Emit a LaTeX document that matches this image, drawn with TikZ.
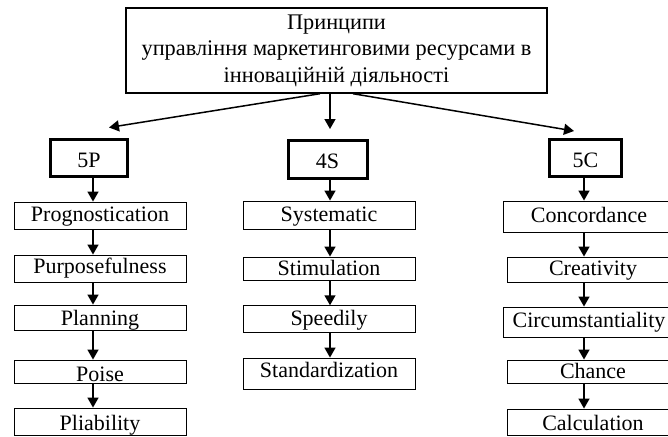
\documentclass[tikz,border=0pt]{standalone}
\usepackage{fontspec}
\setmainfont{Liberation Serif}
\usetikzlibrary{arrows.meta}
\begin{document}
\begin{tikzpicture}[x=1pt,y=-1pt,
  every node/.style={font=\fontsize{22}{26.5}\selectfont, inner sep=0pt},
  topbox/.style={draw, line width=1.4pt, align=center, font=\fontsize{22.3}{26.5}\selectfont},
  headbox/.style={draw, line width=3pt},
  itembox/.style={draw, line width=0.9pt, minimum width=172pt},
  arr/.style={line width=1.5pt, -{Triangle[length=10pt,width=11pt]}}
]
\useasboundingbox (0,0) rectangle (668,436);
\clip (0,0) rectangle (668,436);

\node[topbox, minimum width=421pt, minimum height=85pt] (top) at (336.5,50.5)
  {Принципи\\управління маркетинговими ресурсами в\\інноваційній діяльності};

\node[headbox, minimum width=77pt, minimum height=37pt, text height=28pt, text depth=9pt] (h1) at (89,157.5) {5P};
\node[headbox, minimum width=79pt, minimum height=38pt, text height=28pt, text depth=10pt] (h2) at (327.5,159) {4S};
\node[headbox, minimum width=72pt, minimum height=37pt, text height=28pt, text depth=9pt] (h3) at (585.5,157.5) {5C};

% column 1
\node[itembox, minimum height=27pt, text height=19pt, text depth=8pt] (p1) at (100,215.5) {Prognostication};
\node[itembox, minimum height=27pt, text height=18pt, text depth=9pt] (p2) at (100,268.5) {Purposefulness};
\node[itembox, minimum height=25pt, text height=20pt, text depth=5pt] (p3) at (100,317.5) {Planning};
\node[itembox, minimum height=23pt, text height=21pt, text depth=2pt] (p4) at (100,371.5) {Poise};
\node[itembox, minimum height=27.5pt, text height=22pt, text depth=5.5pt] (p5) at (100,421.75) {Pliability};

% column 2
\node[itembox, minimum height=28pt, text height=20pt, text depth=8pt] (s1) at (329,215) {Systematic};
\node[itembox, minimum height=23pt, text height=18pt, text depth=5pt] (s2) at (329,268.5) {Stimulation};
\node[itembox, minimum height=27pt, text height=20pt, text depth=7pt] (s3) at (329,319.2) {Speedily};
\node[itembox, minimum height=31pt, text height=19pt, text depth=12pt] (s4) at (329,373.5) {Standardization};

% column 3
\node[itembox, minimum height=31pt, text height=21pt, text depth=10pt] (c1) at (589,216.5) {Concordance};
\node[itembox, minimum height=25pt, text height=18pt, text depth=7pt] (c2) at (593,269.5) {Creativity};
\node[itembox, minimum height=30pt, text height=20pt, text depth=10pt] (c3) at (589,322) {Circumstantiality};
\node[itembox, minimum height=23pt, text height=18pt, text depth=5pt] (c4) at (593,371.5) {Chance};
\node[itembox, minimum height=26.5pt, text height=21pt, text depth=5.5pt] (c5) at (593,422.25) {Calculation};

% helper coordinates
\coordinate (xa) at (93,0);
\coordinate (xb) at (330,0);
\coordinate (xc) at (584,0);
\coordinate (sL) at (320,0);
\coordinate (sR) at (353,0);
\coordinate (tL) at (109,127.5);
\coordinate (tC) at (330,129);
\coordinate (tR) at (574,131);

% top arrows
\draw[arr] (top.south -| sL) -- (tL);
\draw[arr] (top.south -| xb) -- (tC);
\draw[arr] (top.south -| sR) -- (tR);

% column arrows
\draw[arr] (h1.south -| xa) -- (p1.north -| xa);
\draw[arr] (p1.south -| xa) -- (p2.north -| xa);
\draw[arr] (p2.south -| xa) -- (p3.north -| xa);
\draw[arr] (p3.south -| xa) -- (p4.north -| xa);
\draw[arr] (p4.south -| xa) -- (p5.north -| xa);

\draw[arr] (h2.south -| xb) -- (s1.north -| xb);
\draw[arr] (s1.south -| xb) -- (s2.north -| xb);
\draw[arr] (s2.south -| xb) -- (s3.north -| xb);
\draw[arr] (s3.south -| xb) -- (s4.north -| xb);

\draw[arr] (h3.south -| xc) -- (c1.north -| xc);
\draw[arr] (c1.south -| xc) -- (c2.north -| xc);
\draw[arr] (c2.south -| xc) -- (c3.north -| xc);
\draw[arr] (c3.south -| xc) -- (c4.north -| xc);
\draw[arr] (c4.south -| xc) -- (c5.north -| xc);
\end{tikzpicture}
\end{document}
